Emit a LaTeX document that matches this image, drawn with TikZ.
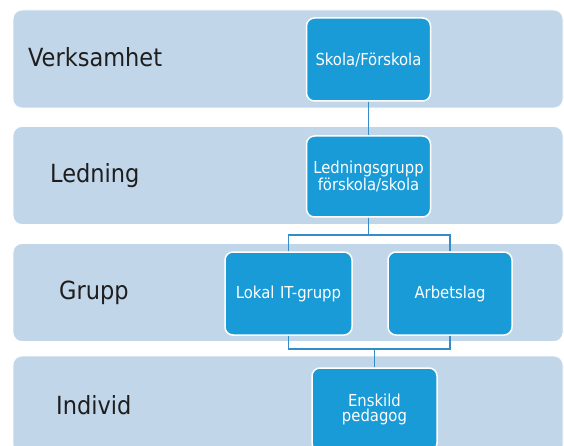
\documentclass[tikz,border=0pt]{standalone}
\usepackage{fontspec}
\setmainfont{DejaVu Sans Condensed}
\usepackage{xcolor}
\usetikzlibrary{positioning,calc}
\definecolor{bandblue}{RGB}{194,214,234}
\definecolor{boxblue}{RGB}{24,155,215}
\definecolor{lineblue}{RGB}{52,140,200}
\definecolor{labelgrey}{RGB}{30,30,30}
\tikzset{
  band/.style={fill=bandblue,draw=white,line width=0.8pt,rounded corners=9pt,
    minimum width=550pt,minimum height=98pt,inner sep=0pt},
  level/.style={anchor=west,text=labelgrey,inner sep=0pt,
    font=\fontsize{25}{30}\selectfont},
  unit/.style={fill=boxblue,draw=white,line width=1.5pt,rounded corners=8pt,
    minimum width=124pt,minimum height=83pt,text width=116pt,align=center,
    text=white,inner sep=0pt,font=\fontsize{16.5}{15}\selectfont},
  link/.style={draw=lineblue,line width=1.7pt}
}
\begin{document}
\begin{tikzpicture}[x=1pt,y=-1pt]
        \clip (0,0) rectangle (564,446);
        \fill[white] (0,0) rectangle (564,446);
        % draw bands
        \foreach \n/\y in {1/59,2/175.5,3/292.5,4/405}
        \node[band] (band\n) at (288,\y) {};
        % draw level names
        \node[level] (verksamhet) at (28,57) {Verksamhet};
        \node[level] (ledning) at (50,176) {Ledning};
        \node[level] (grupp) at (59,293) {Grupp};
        \node[level] (individ) at (56,405) {Individ};
        % draw units
        \node[unit] (skola) at (368.5,59.5) {Skola/Förskola};
        \node[unit,minimum height=81pt] (lgrupp) at (368.5,176.5) {Ledningsgrupp\\förskola/skola};
        \node[unit,minimum width=127pt] (lokal) at (288.5,293.5) {Lokal IT-grupp};
        \node[unit] (arbetslag) at (450,293.5) {Arbetslag};
        \node[unit,minimum width=125pt] (enskild) at (374.5,409.5) {Enskild\\pedagog};
        % draw connectors
        \draw[link] (skola.south) -- (lgrupp.north);
        \draw[link] (lgrupp.south) -- ++(0,17) coordinate (fork);
        \draw[link] (lokal.north) |- (fork) -| (arbetslag.north);
        \draw[link] (enskild.north) -- ++(0,-18) coordinate (join);
        \draw[link] (lokal.south) |- (join) -| (arbetslag.south);
\end{tikzpicture}
\end{document}
